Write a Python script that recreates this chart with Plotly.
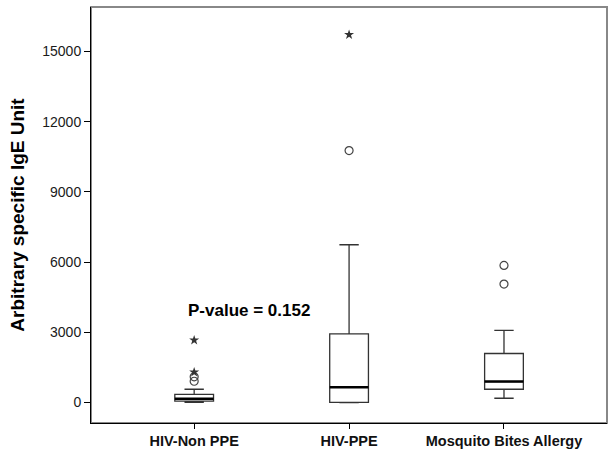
import plotly.graph_objects as go

categories = ["HIV-Non PPE", "HIV-PPE", "Mosquito Bites Allergy"]
q1 = [60, 10, 569]
median = [160, 655, 899]
q3 = [350, 2935, 2097]
lower_whisker = [5, 0, 184]
upper_whisker = [570, 6744, 3081]

# outliers (circles) and extreme values (stars)
outlier_x = ["HIV-Non PPE", "HIV-Non PPE", "HIV-PPE", "Mosquito Bites Allergy", "Mosquito Bites Allergy"]
outlier_y = [910, 1100, 10766, 5062, 5862]
extreme_x = ["HIV-Non PPE", "HIV-Non PPE", "HIV-PPE"]
extreme_y = [1300, 2666, 15717]

y_ticks = [0, 3000, 6000, 9000, 12000, 15000]
annotation_text = "P-value = 0.152"

FONT = "Arial, 'Liberation Sans', sans-serif"

fig = go.Figure()

fig.add_trace(go.Box(
    x=categories, q1=q1, median=median, q3=q3,
    lowerfence=lower_whisker, upperfence=upper_whisker,
    width=0.25, whiskerwidth=0.5,
    fillcolor="rgba(255,255,255,0)",
    line=dict(color="#333333", width=1.3),
    boxpoints=False, hoverinfo="skip", showlegend=False,
))
# thick median lines
fig.add_trace(go.Box(
    x=categories, q1=median, median=median, q3=median,
    lowerfence=median, upperfence=median,
    width=0.25, whiskerwidth=0,
    fillcolor="rgba(255,255,255,0)",
    line=dict(color="#000000", width=2.4),
    boxpoints=False, hoverinfo="skip", showlegend=False,
))
fig.add_trace(go.Scatter(
    x=outlier_x, y=outlier_y, mode="markers",
    marker=dict(symbol="circle-open", size=8, color="#444444", line=dict(width=1.2, color="#444444")),
    showlegend=False, hoverinfo="skip",
))
fig.add_trace(go.Scatter(
    x=extreme_x, y=extreme_y, mode="markers",
    marker=dict(symbol="star", size=7.5, color="#333333", line=dict(width=0)),
    showlegend=False, hoverinfo="skip",
))

fig.add_annotation(
    x=0.356, y=3920, xref="x", yref="y", text=annotation_text,
    showarrow=False, font=dict(family=FONT, size=17, color="#000000", weight="bold"),
    xanchor="center", yanchor="middle",
)

fig.add_shape(type="rect", xref="paper", yref="paper", x0=0, y0=0, x1=1, y1=1,
              line=dict(color="#888888", width=2), layer="below")

fig.update_layout(
    width=610, height=452,
    margin=dict(l=91, r=3, t=7, b=29, autoexpand=False),
    paper_bgcolor="white", plot_bgcolor="white",
    boxmode="overlay",
    showlegend=False,
    font=dict(family=FONT, color="#222222"),
    xaxis=dict(
        type="category", categoryorder="array", categoryarray=categories,
        range=[-0.666, 2.665], showgrid=False, zeroline=False,
        showline=True, linecolor="#000000", linewidth=1,
        ticks="outside", ticklen=5, tickcolor="#000000", tickwidth=1,
        tickfont=dict(family=FONT, size=14.5, color="#111111", weight="bold"),
        automargin=False,
    ),
    yaxis=dict(
        range=[-873, 16902], tickvals=y_ticks, ticktext=[str(v) for v in y_ticks],
        showgrid=False, zeroline=False,
        showline=True, linecolor="#000000", linewidth=1,
        ticks="outside", ticklen=6, tickcolor="#000000", tickwidth=1,
        tickfont=dict(family=FONT, size=14, color="#1a1a1a"),
        title=dict(text="Arbitrary specific IgE Unit", standoff=12,
                   font=dict(family=FONT, size=19, color="#000000", weight="bold")),
        automargin=False,
    ),
)

fig.write_html("out.html", config={"displayModeBar": False},
               post_script="document.body.style.margin='0';document.body.style.padding='0';")
